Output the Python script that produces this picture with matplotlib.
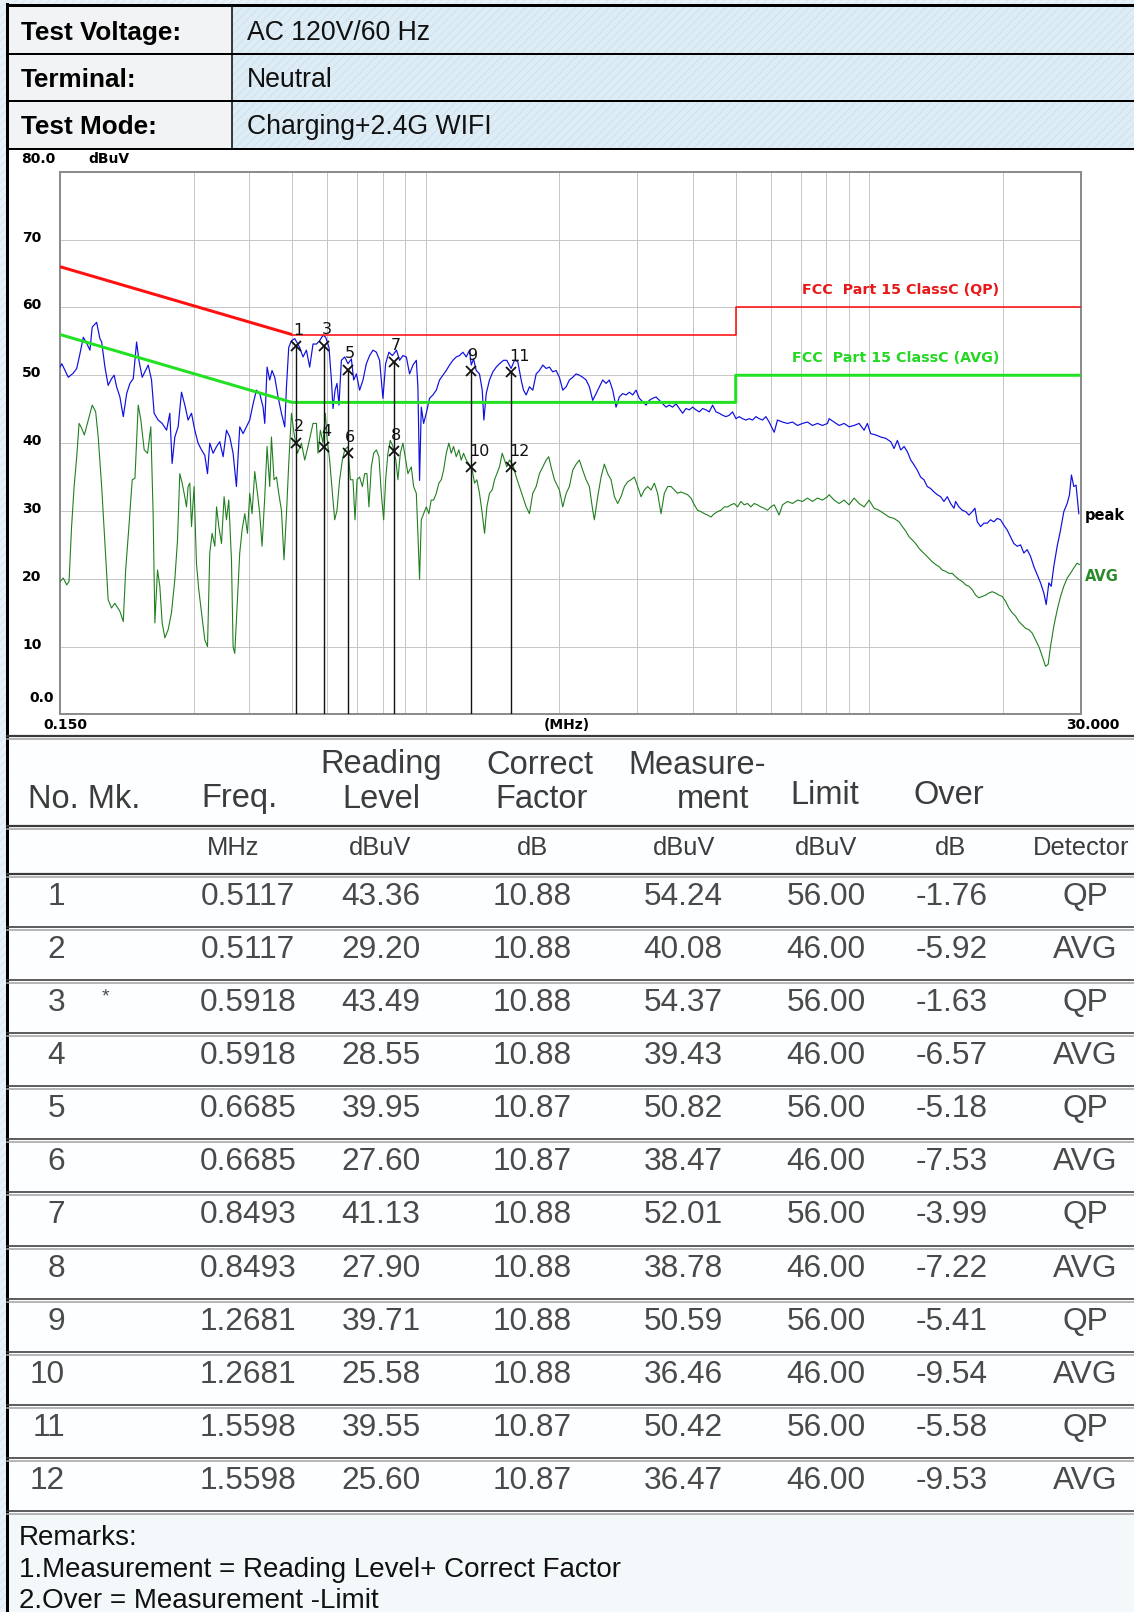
import matplotlib
matplotlib.use('Agg')
import matplotlib.pyplot as plt
import matplotlib.transforms as mtransforms
from matplotlib.patches import Rectangle
from matplotlib.ticker import NullLocator

# ---------------- data ----------------
info_labels = ["Test Voltage:", "Terminal:", "Test Mode:"]
info_values = ["AC 120V/60 Hz", "Neutral", "Charging+2.4G WIFI"]

peak_freq_mhz = [
    0.1500, 0.1514, 0.1540, 0.1566, 0.1606, 0.1636, 0.1664, 0.1693, 0.1723, 0.1752,
    0.1773, 0.1814, 0.1845, 0.1862, 0.1894, 0.1926, 0.1960, 0.1987, 0.2012, 0.2047,
    0.2083, 0.2120, 0.2156, 0.2194, 0.2232, 0.2259, 0.2298, 0.2330, 0.2371, 0.2412,
    0.2445, 0.2496, 0.2549, 0.2608, 0.2652, 0.2684, 0.2722, 0.2769, 0.2818, 0.2867,
    0.2916, 0.2968, 0.3019, 0.3071, 0.3126, 0.3180, 0.3225, 0.3263, 0.3320, 0.3380,
    0.3437, 0.3497, 0.3559, 0.3620, 0.3683, 0.3747, 0.3812, 0.3879, 0.3947, 0.4015,
    0.4086, 0.4157, 0.4229, 0.4303, 0.4341, 0.4393, 0.4454, 0.4508, 0.4572, 0.4651,
    0.4733, 0.4815, 0.4858, 0.4916, 0.4986, 0.5072, 0.5203, 0.5294, 0.5388, 0.5480,
    0.5576,
    0.5676, 0.5772, 0.5873, 0.5956, 0.6058, 0.6134, 0.6186, 0.6251, 0.6315, 0.6380,
    0.6460, 0.6573, 0.6685, 0.6804, 0.6886, 0.6983, 0.7101, 0.7227, 0.7354, 0.7479,
    0.7610, 0.7746, 0.7877, 0.8015, 0.8128, 0.8267, 0.8419, 0.8600, 0.8738, 0.8891,
    0.9049, 0.9203, 0.9364, 0.9531, 0.9609, 0.9692, 0.9780, 0.9898, 1.0036, 1.0208,
    1.0387, 1.0572, 1.0751, 1.0940, 1.1132, 1.1323, 1.1522, 1.1726, 1.1925, 1.2135,
    1.2350, 1.2560, 1.2674, 1.2827, 1.3007, 1.3228, 1.3418, 1.3531, 1.3700, 1.3932,
    1.4177, 1.4427, 1.4673, 1.4985, 1.5243, 1.5586, 1.5865, 1.6136, 1.6423, 1.6622,
    1.6856, 1.7142, 1.7443, 1.7751, 1.8054, 1.8374, 1.8697, 1.9014, 1.9348, 1.9688,
    2.0026,
    2.0378, 2.0740, 2.1091, 2.1461, 2.1843, 2.2213, 2.2603, 2.3005, 2.3395, 2.3806,
    2.4229, 2.464, 2.507, 2.552, 2.595, 2.641, 2.687, 2.733, 2.781, 2.831,
    2.879, 2.930, 2.981, 3.032, 3.085, 3.140, 3.193, 3.249, 3.307, 3.363,
    3.422, 3.483, 3.542, 3.604, 3.668, 3.730, 3.796, 3.863, 3.929, 3.998,
    4.068, 4.138, 4.211, 4.285, 4.358, 4.435, 4.513, 4.590, 4.671, 4.753,
    4.834, 4.919, 5.006, 5.091, 5.180, 5.272, 5.362, 5.456, 5.553, 5.647,
    5.746, 5.848, 5.948, 6.105, 6.210, 6.374, 6.542, 6.714, 6.890, 7.070,
    7.255, 7.446, 7.642, 7.843, 8.049,
    8.118, 8.332, 8.550, 8.775, 9.005, 9.242, 9.484, 9.733, 9.902, 10.07,
    10.34, 10.61, 10.89, 11.18, 11.37, 11.57, 11.77, 11.98, 12.19, 12.40,
    12.61, 12.83, 13.05, 13.28, 13.51, 13.75, 13.99, 14.23, 14.48, 14.73,
    14.99, 15.25, 15.52, 15.65, 15.92, 16.20, 16.49, 16.77, 17.06, 17.30,
    17.51, 17.82, 18.13, 18.44, 18.76, 19.09, 19.42, 19.76, 20.10, 20.45,
    20.81, 21.17, 21.54, 21.92, 22.30, 22.69, 23.09, 23.49, 23.90, 24.32,
    24.74, 25.04, 25.39, 25.70, 26.05, 26.51, 26.98, 27.44, 27.92, 28.26,
    28.55, 28.90, 29.24, 29.66,
]
peak_dbuv = [
    51.2, 51.7, 50.7, 49.7, 50.3, 51.0, 53.2, 55.6, 54.7, 53.7,
    57.1, 57.8, 55.4, 54.9, 51.2, 48.5, 49.5, 50.0, 48.3, 46.8,
    43.9, 47.3, 48.8, 49.5, 54.9, 52.2, 49.7, 50.5, 51.5, 49.3,
    44.4, 43.4, 42.9, 41.9, 44.4, 37.0, 40.9, 42.4, 47.5, 45.6,
    43.4, 44.4, 41.9, 40.0, 39.0, 38.2, 35.5, 40.0, 38.5, 39.5,
    40.2, 38.0, 41.9, 40.9, 38.5, 33.6, 42.4, 41.4, 42.4, 43.4,
    45.8, 47.8, 47.3, 45.3, 42.9, 51.2, 49.3, 50.7, 49.7, 46.8,
    44.4, 42.4, 48.3, 54.1, 55.1, 55.4, 54.1, 52.7, 53.7, 51.2,
    54.6,
    54.6, 55.1, 55.9, 55.6, 54.1, 49.3, 45.1, 47.8, 48.8, 45.6,
    52.2, 52.7, 51.7, 52.4, 49.3, 50.2, 47.8, 49.3, 51.7, 52.9,
    53.7, 53.4, 52.2, 46.6, 51.7, 53.4, 52.9, 53.7, 52.2, 52.9,
    52.7, 50.2, 51.5, 52.2, 48.3, 34.5, 45.3, 42.9, 44.4, 46.6,
    47.1, 47.8, 49.3, 50.0, 50.7, 51.5, 52.2, 52.7, 52.9, 53.4,
    52.7, 53.7, 51.5, 52.4, 50.7, 50.2, 47.8, 43.4, 47.3, 49.3,
    50.5, 51.2, 51.7, 52.2, 52.2, 51.0, 52.2, 52.0, 49.3, 47.8,
    47.1, 48.3, 47.8, 50.2, 50.7, 51.5, 51.0, 51.2, 50.5, 50.7,
    49.7,
    47.8, 48.3, 49.3, 49.7, 50.2, 50.0, 49.7, 49.3, 48.3, 46.3,
    47.3, 48.3, 49.3, 48.8, 49.3, 47.8, 45.3, 46.8, 47.3, 47.1,
    47.5, 47.1, 47.8, 46.6, 46.1, 45.6, 46.3, 46.6, 46.8, 46.3,
    45.8, 45.3, 45.6, 45.3, 45.8, 45.1, 44.4, 45.1, 44.9, 45.3,
    44.9, 44.6, 45.1, 44.9, 44.6, 45.6, 44.6, 44.4, 44.1, 43.9,
    44.1, 44.6, 43.6, 43.9, 43.6, 43.4, 43.6, 43.4, 43.9, 43.6,
    43.4, 43.9, 43.1, 41.6, 43.4, 43.1, 42.9, 43.1, 42.6, 42.9,
    43.1, 42.6, 42.9, 42.6, 42.9,
    43.6, 43.1, 42.6, 42.9, 42.4, 42.6, 42.9, 41.9, 42.9, 41.4,
    41.2, 40.9, 40.7, 40.2, 39.2, 40.4, 39.0, 39.5, 38.7, 37.5,
    36.8, 36.0, 35.0, 34.6, 33.6, 33.3, 32.8, 32.4, 32.1, 31.4,
    32.1, 31.1, 30.4, 31.4, 30.6, 30.1, 29.9, 29.4, 29.9, 30.4,
    28.4, 27.7, 28.2, 28.2, 28.7, 28.4, 28.9, 28.7, 27.9, 27.2,
    26.2, 25.2, 24.8, 25.0, 23.8, 24.3, 23.3, 21.8, 20.6, 19.4,
    17.9, 16.2, 19.4, 18.9, 21.8, 24.8, 27.2, 29.9, 31.1, 32.4,
    35.3, 33.6, 33.8, 29.6,
]

avg_freq_mhz = [
    0.1500, 0.1526, 0.1553, 0.1572, 0.1593, 0.1614, 0.1636, 0.1656, 0.1673, 0.1702,
    0.1737, 0.1773, 0.1805, 0.1829, 0.1862, 0.1894, 0.1926, 0.1960, 0.1994, 0.2047,
    0.2083, 0.2109, 0.2145, 0.2182, 0.2213, 0.2232, 0.2251, 0.2282, 0.2322, 0.2363,
    0.2403, 0.2432, 0.2454, 0.2488, 0.2518, 0.2549, 0.2585, 0.2629, 0.2675, 0.2722,
    0.2760, 0.2793, 0.2827, 0.2857, 0.2892, 0.2916, 0.2942, 0.2968, 0.3008, 0.3045,
    0.3082, 0.3126, 0.3180, 0.3225, 0.3263, 0.3303, 0.3350, 0.3380, 0.3420, 0.3468,
    0.3515, 0.3559, 0.3601, 0.3652, 0.3683, 0.3715, 0.3767, 0.3812, 0.3859, 0.3913,
    0.3968, 0.4015, 0.4064, 0.4121, 0.4179, 0.4229, 0.4280, 0.4341, 0.4393, 0.4454,
    0.4494, 0.4555, 0.4613, 0.4667, 0.4733, 0.4797, 0.4858, 0.4916, 0.4986, 0.5054,
    0.5143, 0.5250, 0.5341, 0.5432, 0.5576,
    0.5676, 0.5723, 0.5793, 0.5873, 0.5944, 0.5993, 0.6079, 0.6166, 0.6240, 0.6315,
    0.6402, 0.6493, 0.6573, 0.6685, 0.6768, 0.6861, 0.6933, 0.7006, 0.7101, 0.7203,
    0.7290, 0.7377, 0.7453, 0.7546, 0.7638, 0.7746, 0.7850, 0.7947, 0.8045, 0.8128,
    0.8225, 0.8325, 0.8443, 0.8569, 0.8663, 0.8770, 0.8891, 0.9017, 0.9124, 0.9285,
    0.9399, 0.9531, 0.9609, 0.9692, 0.9780, 0.9898, 1.0036, 1.0172, 1.0295, 1.0425,
    1.0572, 1.0714, 1.0848, 1.0980, 1.1132, 1.1283, 1.1425, 1.1564, 1.1726, 1.1883,
    1.2033, 1.2180, 1.2350, 1.2560, 1.2740, 1.2893, 1.3049, 1.3228, 1.3418, 1.3580,
    1.3745, 1.3932, 1.4129, 1.4302, 1.4476, 1.4673, 1.4882, 1.5063, 1.5243, 1.5453,
    1.5728, 1.6010, 1.6276, 1.6561, 1.6856, 1.7142, 1.7443, 1.7751, 1.8054, 1.8374,
    1.8697, 1.8947, 1.9175, 1.9518, 2.0026,
    2.0378, 2.0740, 2.1091, 2.1461, 2.1843, 2.2213, 2.2603, 2.3005, 2.3395, 2.3806,
    2.401, 2.443, 2.486, 2.529, 2.573, 2.618, 2.664, 2.710, 2.757, 2.806,
    2.854, 2.905, 2.955, 3.006, 3.059, 3.112, 3.166, 3.222, 3.278, 3.334,
    3.393, 3.452, 3.512, 3.574, 3.636, 3.698, 3.764, 3.829, 3.895, 3.963,
    4.033, 4.102, 4.175, 4.248, 4.321, 4.397, 4.474, 4.551, 4.631, 4.712,
    4.793, 4.877, 4.962, 5.048, 5.135, 5.226, 5.316, 5.409, 5.503, 5.598,
    5.697, 5.797, 5.897, 6.000, 6.105, 6.264, 6.374, 6.542, 6.714, 6.890,
    7.070, 7.255, 7.446, 7.642, 7.843, 8.049,
    8.118, 8.332, 8.550, 8.775, 9.005, 9.242, 9.484, 9.733, 9.989, 10.25,
    10.52, 10.80, 11.08, 11.37, 11.67, 11.87, 12.09, 12.29, 12.51, 12.72,
    12.94, 13.16, 13.40, 13.63, 13.87, 14.11, 14.36, 14.60, 14.86, 15.12,
    15.39, 15.65, 15.92, 16.20, 16.49, 16.77, 17.06, 17.36, 17.66, 17.97,
    18.29, 18.60, 18.92, 19.26, 19.59, 19.93, 20.28, 20.63, 20.99, 21.36,
    21.73, 22.11, 22.50, 22.89, 23.29, 23.70, 24.11, 24.53, 24.96, 25.30,
    25.61, 26.05, 26.51, 26.98, 27.44, 27.92, 28.40, 28.90, 29.40, 29.76,
]
avg_dbuv = [
    19.6, 20.1, 19.1, 19.6, 27.7, 33.6, 38.0, 42.9, 42.4, 41.2,
    43.4, 45.6, 44.6, 40.9, 33.6, 25.2, 16.9, 15.7, 16.4, 15.2,
    13.7, 21.3, 27.7, 34.6, 34.8, 40.4, 45.6, 43.4, 39.0, 38.5,
    42.4, 29.6, 13.5, 21.3, 18.9, 13.5, 11.3, 12.5, 15.0, 19.9,
    25.7, 35.5, 34.1, 32.6, 30.6, 33.6, 34.1, 27.7, 33.6, 22.3,
    18.4, 15.0, 11.0, 10.0, 23.8, 26.7, 24.8, 30.6, 27.7, 25.2,
    32.1, 28.7, 31.6, 22.8, 10.0, 9.0, 16.9, 23.8, 27.2, 29.6,
    26.7, 32.6, 29.6, 35.8, 32.6, 29.6, 24.8, 32.1, 39.5, 33.6,
    40.9, 34.6, 35.0, 32.6, 30.1, 22.8, 29.6, 37.0, 44.4, 41.4,
    38.5, 40.0, 37.5, 39.5, 42.9,
    42.9, 38.5, 41.9, 40.0, 44.4, 40.9, 37.5, 32.6, 28.7, 30.1,
    34.6, 37.5, 39.0, 39.5, 34.6, 34.6, 28.7, 34.6, 35.0, 33.6,
    35.5, 35.5, 30.6, 36.5, 38.5, 39.0, 38.0, 32.6, 28.7, 34.6,
    38.5, 40.4, 39.5, 37.5, 34.6, 38.5, 40.0, 37.5, 35.5, 36.5,
    33.6, 32.6, 26.7, 19.9, 28.7, 29.6, 30.6, 29.6, 31.6, 31.6,
    32.6, 34.1, 34.6, 36.0, 38.5, 40.0, 38.5, 39.5, 38.0, 39.0,
    37.5, 38.5, 37.5, 36.8, 36.0, 34.1, 34.6, 32.6, 29.6, 26.7,
    30.6, 32.6, 33.1, 34.6, 35.5, 36.5, 38.5, 37.5, 36.5, 37.5,
    36.8, 35.0, 33.6, 32.1, 30.6, 29.6, 32.6, 33.6, 35.5, 36.5,
    37.5, 38.0, 36.5, 34.6, 33.1,
    30.6, 32.6, 33.6, 36.0, 36.9, 37.5, 36.0, 34.6, 33.6, 30.1,
    28.7, 32.1, 35.0, 36.9, 35.5, 34.6, 32.1, 31.1, 32.1, 33.6,
    34.3, 34.6, 35.0, 33.6, 32.1, 33.1, 33.6, 33.1, 34.1, 32.6,
    29.6, 32.6, 33.6, 33.6, 33.1, 32.6, 32.8, 32.6, 32.4, 31.9,
    30.9, 30.1, 29.9, 29.6, 29.4, 29.1, 29.6, 29.9, 30.1, 30.6,
    30.6, 30.9, 31.1, 30.6, 31.4, 30.9, 31.1, 30.6, 31.1, 30.9,
    30.6, 30.4, 30.1, 30.6, 30.9, 29.4, 30.9, 31.4, 31.1, 31.6,
    31.4, 31.9, 31.4, 31.9, 31.6, 32.1,
    32.4, 31.6, 31.1, 31.6, 30.9, 31.9, 31.1, 30.6, 31.6, 30.4,
    30.1, 29.6, 29.1, 28.9, 28.4, 27.7, 27.0, 26.2, 25.7, 25.2,
    24.5, 24.0, 23.5, 23.0, 22.5, 22.1, 21.8, 21.3, 21.1, 20.8,
    20.8, 20.3, 19.9, 19.6, 19.1, 18.9, 18.4, 17.6, 17.2, 17.4,
    17.6, 17.9, 18.1, 17.9, 17.6, 17.4, 16.7, 15.7, 15.0, 14.5,
    13.7, 13.2, 12.7, 12.5, 12.0, 11.0, 10.0, 8.6, 7.1, 7.4,
    10.0, 13.0, 15.4, 17.4, 18.9, 20.1, 20.8, 21.6, 22.3, 22.1,
]

qp_limit_freq = [0.15, 0.5, 5.0, 5.0, 30.0]
qp_limit_dbuv = [66.0, 56.0, 56.0, 60.0, 60.0]
avg_limit_freq = [0.15, 0.5, 5.0, 5.0, 30.0]
avg_limit_dbuv = [56.0, 46.0, 46.0, 50.0, 50.0]

grid_freqs = [0.3, 0.4, 0.5, 0.6, 0.7, 0.8, 0.9, 1, 2, 3, 4, 5, 6, 7, 8, 9, 10, 20]
y_ticks = [0, 10, 20, 30, 40, 50, 60, 70, 80]

mk_no = [1, 2, 3, 4, 5, 6, 7, 8, 9, 10, 11, 12]
mk_star = ["", "", "*", "", "", "", "", "", "", "", "", ""]
tb_freq = [0.5117, 0.5117, 0.5918, 0.5918, 0.6685, 0.6685, 0.8493, 0.8493, 1.2681, 1.2681, 1.5598, 1.5598]
tb_reading = [43.36, 29.20, 43.49, 28.55, 39.95, 27.60, 41.13, 27.90, 39.71, 25.58, 39.55, 25.60]
tb_correct = [10.88, 10.88, 10.88, 10.88, 10.87, 10.87, 10.88, 10.88, 10.88, 10.88, 10.87, 10.87]
tb_meas = [54.24, 40.08, 54.37, 39.43, 50.82, 38.47, 52.01, 38.78, 50.59, 36.46, 50.42, 36.47]
tb_limit = [56.00, 46.00, 56.00, 46.00, 56.00, 46.00, 56.00, 46.00, 56.00, 46.00, 56.00, 46.00]
tb_over = [-1.76, -5.92, -1.63, -6.57, -5.18, -7.53, -3.99, -7.22, -5.41, -9.54, -5.58, -9.53]
tb_det = ["QP", "AVG", "QP", "AVG", "QP", "AVG", "QP", "AVG", "QP", "AVG", "QP", "AVG"]

remarks = ["Remarks:", "1.Measurement = Reading Level+ Correct Factor", "2.Over = Measurement -Limit"]

# ---------------- figure ----------------
W, H = 1134, 1612
plt.rcParams['hatch.linewidth'] = 0.5
fig = plt.figure(figsize=(W / 100, H / 100), dpi=100)
fig.patch.set_facecolor('#e6f0f6')
bg = fig.add_axes([0, 0, 1, 1])
bg.set_xlim(0, W)
bg.set_ylim(H, 0)
bg.axis('off')

PX = 0.72  # points per pixel
TF = ['Liberation Sans', 'DejaVu Sans']
CF = ['DejaVu Sans']

bg.add_patch(Rectangle((0, 0), W, H, facecolor='#e8f1f7', edgecolor='#d3e3ee', hatch='////', lw=0, zorder=0))
bg.add_patch(Rectangle((7, 5), 225, 144, facecolor='#f2f3f4', lw=0, zorder=1))
bg.add_patch(Rectangle((232, 5), W - 232, 144, facecolor='#deedf5', edgecolor='#c9dde9', hatch='////', lw=0, zorder=1))
bg.add_patch(Rectangle((7, 149), W - 7, 589, facecolor='white', lw=0, zorder=1))
bg.add_patch(Rectangle((7, 738), W - 7, 776, facecolor='#fdfeff', lw=0, zorder=1))
bg.add_patch(Rectangle((7, 1515), W - 7, H - 1515, facecolor='#f3f8fb', lw=0, zorder=1))

bg.plot([7, W], [5, 5], color='black', lw=3 * PX, zorder=5)
bg.plot([7, 7], [4, H], color='black', lw=3 * PX, zorder=5)
for yy in [53.5, 101, 149]:
    bg.plot([7, W], [yy, yy], color='black', lw=2 * PX, zorder=5)
bg.plot([232, 232], [5, 149], color='black', lw=1.5 * PX, zorder=5)

for i, (lab, val) in enumerate(zip(info_labels, info_values)):
    yc = [33, 80, 127][i]
    bg.text(21, yc, lab, fontsize=18.8, fontweight='bold', family=TF, ha='left', va='center', color='black', zorder=6)
    bg.text(247, yc, val, fontsize=19.2, family=TF, ha='left', va='center', color='#111111', zorder=6)

# ---------------- spectrum plot ----------------
x0, x1 = 60, 1081
y0, y1 = 171.7, 714.5
ax = fig.add_axes([x0 / W, 1 - y1 / H, (x1 - x0) / W, (y1 - y0) / H])
ax.set_facecolor('white')
ax.set_xscale('log')
ax.set_xlim(0.15, 30)
ax.set_ylim(0, 80)
ax.set_xticks(grid_freqs)
ax.xaxis.set_minor_locator(NullLocator())
ax.set_yticks(y_ticks)
ax.tick_params(length=0, labelbottom=False, labelleft=False)
ax.grid(True, color='#c6c6c6', lw=1.0 * PX)
for s in ax.spines.values():
    s.set_color('#8c8c8c')
    s.set_linewidth(2 * PX)

ax.plot(peak_freq_mhz, peak_dbuv, color='#1010e0', lw=1.2 * PX, zorder=3)
ax.plot(avg_freq_mhz, avg_dbuv, color='#1f7f1f', lw=1.1 * PX, zorder=3)
ax.plot(qp_limit_freq[:2], qp_limit_dbuv[:2], color='#ff1010', lw=3 * PX, zorder=4, solid_capstyle='butt')
ax.plot(qp_limit_freq[1:], qp_limit_dbuv[1:], color='#ff1010', lw=1.6 * PX, zorder=4)
ax.plot(avg_limit_freq, avg_limit_dbuv, color='#22e022', lw=3 * PX, zorder=4)

top = {}
for f, m in zip(tb_freq, tb_meas):
    top[f] = max(top.get(f, 0), m)
ax.vlines(list(top.keys()), 0, list(top.values()), color='#111111', lw=1.4 * PX, zorder=5)
ax.plot(tb_freq, tb_meas, ls='none', marker='x', ms=7.5, mew=1.3, color='#111111', zorder=6)
for n, f, m in zip(mk_no, tb_freq, tb_meas):
    dx = 6 if n >= 10 else 1.5
    ax.annotate(str(n), (f, m), xytext=(dx, 6), textcoords='offset points',
                ha='center', va='bottom', fontsize=11.5, family=CF, color='#111111', zorder=7)

ytr = mtransforms.blended_transform_factory(ax.transAxes, ax.transData)
LS = 10
for v in y_ticks[1:-1]:
    ax.text(-0.0372, v + 0.3, str(v), transform=ytr, fontsize=LS, fontweight='bold', family=CF,
            ha='left', va='center', clip_on=False)
ax.text(-0.0382, 81.9, '80.0', transform=ytr, fontsize=LS, fontweight='bold', family=CF,
        ha='left', va='center', clip_on=False)
ax.text(0.0274, 81.9, 'dBuV', transform=ytr, fontsize=LS, fontweight='bold', family=CF,
        ha='left', va='center', clip_on=False)
ax.text(-0.0304, 2.5, '0.0', transform=ytr, fontsize=LS, fontweight='bold', family=CF,
        ha='left', va='center', clip_on=False)
ax.text(-0.0167, -0.0195, '0.150', transform=ax.transAxes, fontsize=LS, fontweight='bold', family=CF,
        ha='left', va='center', clip_on=False)
ax.text(0.4966, -0.0195, '(MHz)', transform=ax.transAxes, fontsize=LS, fontweight='bold', family=CF,
        ha='center', va='center', clip_on=False)
ax.text(1.038, -0.0195, '30.000', transform=ax.transAxes, fontsize=LS, fontweight='bold', family=CF,
        ha='right', va='center', clip_on=False)

ax.text(19.6, 62.6, 'FCC  Part 15 ClassC (QP)', fontsize=10.3, fontweight='bold', family=CF,
        color='#e81818', ha='right', va='center')
ax.text(19.6, 52.6, 'FCC  Part 15 ClassC (AVG)', fontsize=10.3, fontweight='bold', family=CF,
        color='#22d822', ha='right', va='center')
ax.text(1.004, 29.4, 'peak', transform=ytr, fontsize=10.5, fontweight='bold', family=CF,
        color='black', ha='left', va='center', clip_on=False)
ax.text(1.004, 20.3, 'AVG', transform=ytr, fontsize=10.5, fontweight='bold', family=CF,
        color='#2a8a2a', ha='left', va='center', clip_on=False)

# ---------------- results table ----------------
def dline(y, thick=False):
    bg.plot([7, W], [y, y], color='#3a3a3a', lw=(2.2 if thick else 1.6) * PX, zorder=5)
    bg.plot([7, W], [y + 3, y + 3], color='#a6a6a6', lw=1.6 * PX, zorder=5)

dline(736, True)
dline(826, True)
dline(874, True)
row_h = 53.08
for k in range(1, 13):
    dline(874 + row_h * k)

hc = '#3c3c3c'
hs = 23.5
bg.text(28, 799, 'No. Mk.', fontsize=hs, family=TF, color=hc, ha='left', va='center', zorder=6)
bg.text(239, 799, 'Freq.', fontsize=hs, family=TF, color=hc, ha='center', va='center', zorder=6)
bg.text(381, 765, 'Reading', fontsize=hs, family=TF, color=hc, ha='center', va='center', zorder=6)
bg.text(381, 799, 'Level', fontsize=hs, family=TF, color=hc, ha='center', va='center', zorder=6)
bg.text(540, 765, 'Correct', fontsize=hs, family=TF, color=hc, ha='center', va='center', zorder=6)
bg.text(542, 799, 'Factor', fontsize=hs, family=TF, color=hc, ha='center', va='center', zorder=6)
bg.text(697, 765, 'Measure-', fontsize=hs, family=TF, color=hc, ha='center', va='center', zorder=6)
bg.text(749, 799, 'ment', fontsize=hs, family=TF, color=hc, ha='right', va='center', zorder=6)
bg.text(825, 795, 'Limit', fontsize=hs, family=TF, color=hc, ha='center', va='center', zorder=6)
bg.text(949, 795, 'Over', fontsize=hs, family=TF, color=hc, ha='center', va='center', zorder=6)

us = 18.4
units = [(233, 'MHz'), (380, 'dBuV'), (532, 'dB'), (684, 'dBuV'), (826, 'dBuV'), (951, 'dB'), (1081, 'Detector')]
for ux, ut in units:
    bg.text(ux, 848, ut, fontsize=us, family=TF, color=hc, ha='center', va='center', zorder=6)

vc = '#4a4a4a'
vs = 22.8
for i in range(12):
    yc = 874 + 23 + row_h * i
    bg.text(65, yc, str(mk_no[i]), fontsize=vs, family=TF, color=vc, ha='right', va='center', zorder=6)
    if mk_star[i]:
        bg.text(105, yc - 6, mk_star[i], fontsize=14, family=TF, color=vc, ha='center', va='center', zorder=6)
    bg.text(248, yc, f'{tb_freq[i]:.4f}', fontsize=vs, family=TF, color=vc, ha='center', va='center', zorder=6)
    bg.text(381, yc, f'{tb_reading[i]:.2f}', fontsize=vs, family=TF, color=vc, ha='center', va='center', zorder=6)
    bg.text(532, yc, f'{tb_correct[i]:.2f}', fontsize=vs, family=TF, color=vc, ha='center', va='center', zorder=6)
    bg.text(683, yc, f'{tb_meas[i]:.2f}', fontsize=vs, family=TF, color=vc, ha='center', va='center', zorder=6)
    bg.text(826, yc, f'{tb_limit[i]:.2f}', fontsize=vs, family=TF, color=vc, ha='center', va='center', zorder=6)
    bg.text(952, yc, f'{tb_over[i]:.2f}', fontsize=vs, family=TF, color=vc, ha='center', va='center', zorder=6)
    bg.text(1085, yc, tb_det[i], fontsize=vs, family=TF, color=vc, ha='center', va='center', zorder=6)

for j, r in enumerate(remarks):
    bg.text(19, [1538, 1570, 1601][j], r, fontsize=20, family=TF, color='#111111', ha='left', va='center', zorder=6)

fig.savefig('out.png', dpi=100, facecolor=fig.get_facecolor())
